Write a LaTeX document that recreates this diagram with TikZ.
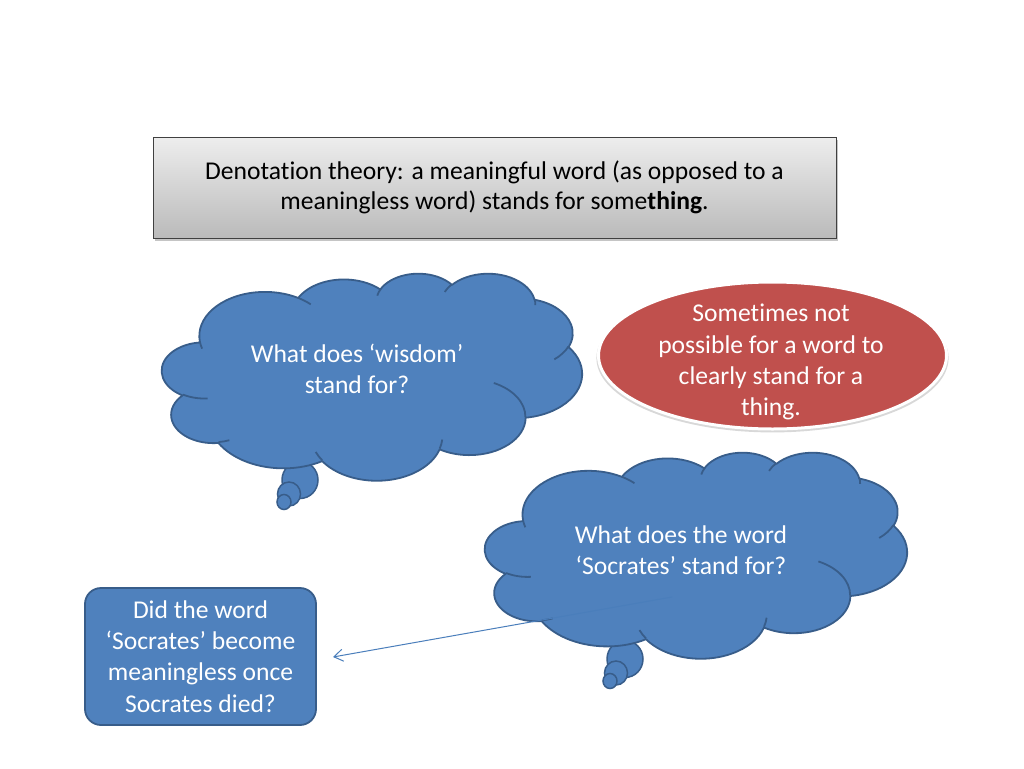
\documentclass[tikz,border=0pt]{standalone}
\usepackage{fontspec}
\setmainfont[Ligatures=NoCommon]{Carlito}
\usetikzlibrary{shapes.geometric,shadows,arrows.meta}
\definecolor{cblue}{HTML}{4F81BD}
\definecolor{cedge}{HTML}{385D8A}
\definecolor{cred}{HTML}{C0504D}
\definecolor{aline}{HTML}{4A7EBB}
\newcommand\va[3]{atan2(#1*sin(#3),#2*cos(#3))}
\newcommand\ca[4]{arc ({-\va{#1}{#2}{#3}}:{-\va{#1}{#2}{#3}-mod(\va{#1}{#2}{#3+#4}-\va{#1}{#2}{#3}+720,360)}:#1pt and #2pt)}
\newcommand\cloudouter{(39.00,143.70)
 \ca{67.53}{91.90}{-190.4875}{123.7805}
 \ca{53.33}{72.67}{-144.1024}{89.9452}
 \ca{43.65}{59.45}{-145.8079}{99.7230}
 \ca{48.57}{65.95}{-130.9861}{117.2417}
 \ca{53.33}{72.73}{-78.7089}{109.0269}
 \ca{67.75}{92.20}{-46.2673}{130.2690}
 \ca{57.85}{78.67}{0.6250}{114.0333}
 \ca{67.52}{92.15}{22.4516}{115.1726}
 \ca{77.20}{105.43}{66.2426}{75.7110}
 \ca{43.60}{59.18}{-274.9421}{146.7356}
 \ca{43.45}{59.45}{-246.8285}{152.5189} -- cycle}
\newcommand\cloudinner{(46.93,261.77) \ca{43.45}{59.45}{86.742}{26.4295}
 (69.28,348.99) \ca{43.60}{59.18}{73.6105}{11.4475}
 (164.78,390.90) \ca{67.52}{92.15}{137.6242}{14.0811}
 (288.27,347.51) \ca{67.52}{92.15}{6.4533}{15.9984}
 (341.29,229.54) \ca{57.85}{78.67}{-70.2924}{70.9174}
 (417.98,153.54) \ca{53.33}{72.73}{30.3180}{27.7515}
 (383.24,54.26) \ca{48.57}{65.95}{-13.7443}{14.8589}
 (290.78,39.52) \ca{48.57}{65.95}{-149.1815}{18.1954}
 (221.41,47.20) \ca{43.65}{59.45}{-163.4943}{17.6864}
 (140.00,51.92) \ca{67.53}{91.90}{-66.7070}{12.3194}
 (41.27,157.89) \ca{67.53}{91.90}{157.6544}{11.8582}}
\newcommand\thoughtcloud[4]{%
 \begin{scope}[shift={(#1,#2)},xscale=#3/432,yscale=#4/432]
  \fill[cblue] \cloudouter;
  \draw[cloudline] \cloudouter;
  \draw[cloudline] \cloudinner;
 \end{scope}}
\tikzset{
 cloudline/.style={draw=cedge,line width=1.8pt,line join=round},
 bubble/.style={fill=cblue,draw=cedge,line width=1.5pt},
 wtext/.style={text=white,align=center,font=\fontsize{25.6}{31.2}\selectfont},
 topbox/.style={draw=black!75,line width=0.8pt,top color=black!7,bottom color=black!27,
   minimum width=683pt,minimum height=101pt,align=center,
   font=\fontsize{25.6}{29.5}\selectfont,
   drop shadow={shadow xshift=1.5pt,shadow yshift=-3pt,opacity=0.45}},
 redshape/.style={draw=white,line width=3pt,fill=cred,
   drop shadow={shadow scale=1.012,shadow xshift=0pt,shadow yshift=-2.5pt,opacity=0.3}},
 qbox/.style={rounded corners=16pt,draw=cedge,line width=1.8pt,fill=cblue,
   minimum width=231pt,minimum height=137pt,wtext},
 conn/.style={draw=aline,line width=1pt,-{Straight Barb[length=9pt,width=12pt]}}
}
\begin{document}
\begin{tikzpicture}[x=1pt,y=-1pt]
\useasboundingbox[fill=white] (0,0) rectangle (1024,768);
% top definition box
\node[topbox] (def) at (494.5,187.5) {Denotation theory: a meaningful word (as opposed to a\\meaningless word) stands for some\textbf{thing}.};
% cloud 1
\fill[bubble] (300,480) ellipse [x radius=18pt,y radius=18.5pt];
\fill[bubble] (289,494) ellipse [x radius=11.5pt,y radius=12pt];
\fill[bubble] (284,502) ellipse [x radius=7pt,y radius=7.5pt];
\thoughtcloud{162}{273}{420}{207}
\node[wtext] (w) at (357,369) {What does ‘wisdom’\\stand for?};
% red ellipse
\path[redshape] (772.5,355.5) ellipse [x radius=174pt,y radius=73.5pt];
\node[wtext] (e) at (771,362) {Sometimes not\\possible for a word to\\clearly stand for a\\thing.};
% cloud 2
\fill[bubble] (625,659) ellipse [x radius=18pt,y radius=18.5pt];
\fill[bubble] (616,673) ellipse [x radius=11.5pt,y radius=12pt];
\fill[bubble] (610,681) ellipse [x radius=7pt,y radius=7.5pt];
\thoughtcloud{485}{452}{422}{206}
\node[wtext] (s) at (681,550) {What does the word\\‘Socrates’ stand for?};
% question box
\node[qbox] (q) at (200.5,656.5) {Did the word\\‘Socrates’ become\\meaningless once\\Socrates died?};
% connector
\coordinate (as) at (672,597);
\coordinate (ae) at (333,657);
\draw[conn] (as) -- (ae);
\end{tikzpicture}
\end{document}
